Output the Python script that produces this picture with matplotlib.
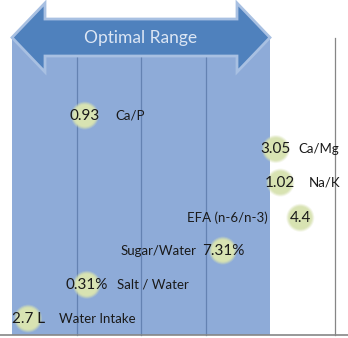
import matplotlib
matplotlib.use("Agg")
import matplotlib.pyplot as plt
from matplotlib.patches import Polygon, Rectangle

# ---- data ----
categories = ["Ca/P", "Ca/Mg", "Na/K", "EFA (n-6/n-3)", "Sugar/Water", "Salt / Water", "Water Intake"]
value_labels = ["0.93", "3.05", "1.02", "4.4", "7.31%", "0.31%", "2.7 L"]
x_pos = [1.13, 4.09, 4.16, 4.47, 3.27, 1.16, 0.25]
y_pos = [6.55, 5.55, 4.55, 3.5, 2.52, 1.5, 0.49]
optimal_range = (0, 4)
x_grid = [1, 2, 3, 4, 5]
range_title = "Optimal Range"

# ---- layout (label offsets in pixels, alignment) ----
label_dx = [30, 23, 28, -33, -27, 30, 31]
label_ha = ["left", "left", "left", "right", "right", "left", "left"]

FONT = ["Lato", "DejaVu Sans"]

fig = plt.figure(figsize=(3.48, 3.38), dpi=100)
ax = fig.add_axes([0, 0, 1, 1])
ax.set_xlim(-12 / 64.5, 336 / 64.5)
ax.set_ylim(-3 / 33.5, 335 / 33.5)
ax.axis("off")

top = 8.88
# optimal range band
ax.add_patch(Rectangle((optimal_range[0], 0), optimal_range[1] - optimal_range[0], top,
                       facecolor="#8eabd8", edgecolor="none", zorder=1))
# gridlines
for gx in x_grid:
    inside = optimal_range[0] < gx < optimal_range[1]
    if gx == optimal_range[1]:
        continue
    ax.plot([gx, gx], [0, top], color="#6482b2" if inside else "#868686", lw=0.9, zorder=2)
# horizontal axis line
ax.axhline(0, color="#868686", lw=1.2, zorder=3)

# double-headed arrow
yc = top
bh = 18.5 / 33.5
hh = 34.5 / 33.5
hl = 33 / 64.5
x0, x1 = optimal_range
pts = [(x0, yc), (x0 + hl, yc + hh), (x0 + hl, yc + bh), (x1 - hl, yc + bh), (x1 - hl, yc + hh),
       (x1, yc), (x1 - hl, yc - hh), (x1 - hl, yc - bh), (x0 + hl, yc - bh), (x0 + hl, yc - hh)]
ax.add_patch(Polygon(pts, closed=True, facecolor="#4f81bd", edgecolor="#a8c0e2", lw=2.0,
                     joinstyle="miter", zorder=5))
ax.text((x0 + x1) / 2, yc - 0.02, range_title, ha="center", va="center", color="#dce6f4",
        fontsize=12.5, family=FONT, zorder=6)

# points (soft glowing circles)
for x, y, v, c, dx, ha in zip(x_pos, y_pos, value_labels, categories, label_dx, label_ha):
    for r, a in [(14, 0.25), (13, 0.45), (12, 0.7), (11, 1.0)]:
        ax.scatter([x], [y], s=(2 * r * 0.72) ** 2, color="#d8e3b2", alpha=a,
                   edgecolors="none", zorder=7)
    ax.text(x, y, v, ha="center", va="center", fontsize=11, color="#1a1a1a",
            family=FONT, zorder=8)
    ax.annotate(c, (x, y), xytext=(dx, 0), textcoords="offset pixels", ha=ha, va="center",
                fontsize=9.5, color="#1a1a1a", family=FONT, zorder=8)

fig.savefig("out.png", dpi=100)
